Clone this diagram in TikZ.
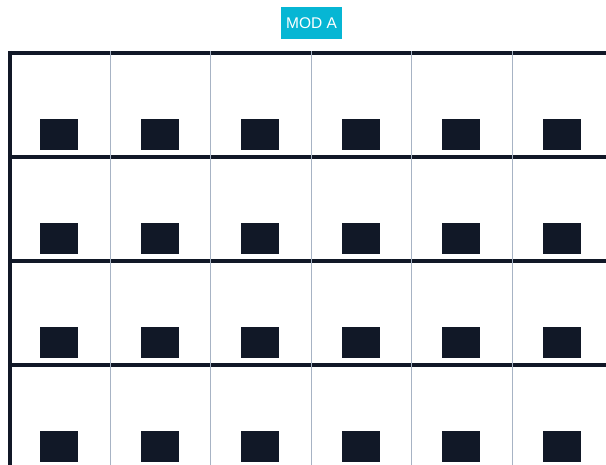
\documentclass[tikz,border=0pt]{standalone}
\usepackage{fontspec}
\setmainfont{Liberation Sans}
\usepackage{tikz}
\usetikzlibrary{positioning}
\definecolor{modcyan}{HTML}{06B6D4}
\definecolor{inkdark}{HTML}{111827}
\definecolor{railgray}{HTML}{A7B3C4}
\tikzset{
	shelf/.style={draw=inkdark, line width=4pt},
	divider/.style={draw=railgray, line width=1pt},
	bin/.style={fill=inkdark, minimum width=38pt, minimum height=31pt, inner sep=0pt},
	tag/.style={fill=modcyan, text=white, minimum width=61pt, minimum height=32pt, inner sep=0pt, font=\fontsize{15.5}{18}\selectfont}
}
\begin{document}
\begin{tikzpicture}[x=1pt, y=-1pt]
			\useasboundingbox (0,0) rectangle (606,465);
			\path (311.5,23) node[tag] (modA) {MOD A};
			% shelves
			\foreach \r in {0,...,3} \draw[shelf] (9.5,{53+104*\r}) -- (606,{53+104*\r});
			\draw[shelf] (9.5,51) -- (9.5,465);
			% dividers
			\foreach \c in {1,...,5} \draw[divider] ({9.5+100.6*\c},51) -- ({9.5+100.6*\c},465);
			% bins
			\foreach \r in {0,...,3}
				\foreach \c in {0,...,5}
					\path ({59+100.6*\c},{134.5+104*\r}) node[bin] (bin\r\c) {};
		\end{tikzpicture}
\end{document}
